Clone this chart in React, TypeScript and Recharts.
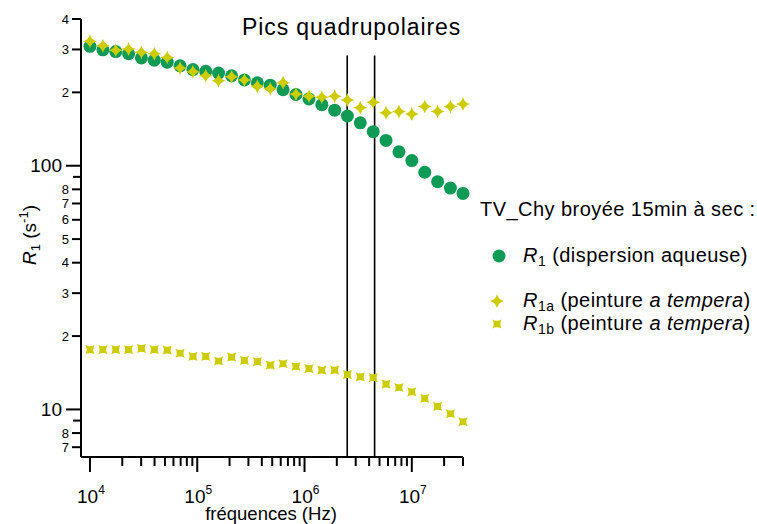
import { ScatterChart, Scatter, XAxis, YAxis, ReferenceLine } from 'recharts';

// fréquences (Hz), ~8 points par décade
const freqs = [
  1.0e4, 1.32e4, 1.74e4, 2.29e4, 3.02e4, 3.98e4, 5.25e4, 6.92e4, 9.12e4, 1.2e5,
  1.58e5, 2.09e5, 2.75e5, 3.63e5, 4.79e5, 6.31e5, 8.32e5, 1.1e6, 1.45e6, 1.91e6,
  2.51e6, 3.31e6, 4.37e6, 5.75e6, 7.59e6, 1.0e7, 1.32e7, 1.74e7, 2.29e7, 3.0e7,
];

// R1 (dispersion aqueuse)
const r1 = [
  309, 299, 294, 288, 277, 271, 266, 257, 248, 244,
  240, 234, 225, 219, 214, 205, 196, 188, 178, 169,
  160, 150, 138, 127, 114, 105, 94, 86, 81, 77,
];

// R1a (peinture a tempera)
const r1a = [
  324, 311, 298, 301, 292, 288, 278, 252, 243, 234,
  223, 232, 225, 212, 207, 219, 197, 193, 191, 193,
  186, 173, 182, 165, 167, 163, 175, 167, 175, 179,
];

// R1b (peinture a tempera)
const r1b = [
  17.6, 17.6, 17.6, 17.6, 17.8, 17.6, 17.5, 17.0, 16.5, 16.5,
  15.8, 16.4, 15.9, 15.7, 15.2, 15.4, 15.0, 14.7, 14.5, 14.5,
  13.9, 13.6, 13.5, 12.7, 12.3, 11.8, 11.1, 10.3, 9.6, 8.9,
];

// pics quadrupolaires
const pics = [2.5e6, 4.5e6];

const xTicks = [
  1e4, 2e4, 3e4, 4e4, 5e4, 6e4, 7e4, 8e4, 9e4,
  1e5, 2e5, 3e5, 4e5, 5e5, 6e5, 7e5, 8e5, 9e5,
  1e6, 2e6, 3e6, 4e6, 5e6, 6e6, 7e6, 8e6, 9e6,
  1e7, 2e7, 3e7,
];
const yTicks = [7, 8, 9, 10, 20, 30, 40, 50, 60, 70, 80, 90, 100, 200, 300, 400];
const xDomain = [8250, 3e7];
const yDomain = [6.38, 400];

const GREEN = '#0f9b55';
const YELLOW = '#cccc00';
const FONT = '"Liberation Sans", Arial, Helvetica, sans-serif';

const toPts = (ys: number[]) => freqs.map((f, i) => ({ x: f, y: ys[i] }));

const isDecade = (v: number) => Math.abs(Math.log10(v) - Math.round(Math.log10(v))) < 1e-9;

const Dot = (p: any) => <circle cx={p.cx} cy={p.cy} r={6.5} fill={GREEN} />;

const starPath = (cx: number, cy: number, r: number) => {
  const k = r * 0.2;
  return `M${cx},${cy - r} Q${cx + k},${cy - k} ${cx + r},${cy} Q${cx + k},${cy + k} ${cx},${cy + r} Q${cx - k},${cy + k} ${cx - r},${cy} Q${cx - k},${cy - k} ${cx},${cy - r} Z`;
};
const boxPath = (cx: number, cy: number, c: number) => {
  const k = c * 0.45;
  return `M${cx - c},${cy - c} Q${cx},${cy - k} ${cx + c},${cy - c} Q${cx + k},${cy} ${cx + c},${cy + c} Q${cx},${cy + k} ${cx - c},${cy + c} Q${cx - k},${cy} ${cx - c},${cy - c} Z`;
};

const Star = (p: any) => <path d={starPath(p.cx, p.cy, 7)} fill={YELLOW} />;
const Box = (p: any) => <path d={boxPath(p.cx, p.cy, 4.6)} fill={YELLOW} />;

const XTick = (props: any) => {
  const { x, y, payload } = props;
  const v = payload.value;
  if (isDecade(v)) {
    const e = Math.round(Math.log10(v));
    return (
      <g>
        <line x1={x} y1={y} x2={x} y2={y + 15} stroke="#000" strokeWidth={2} />
        <text x={x + 1} y={y + 46} textAnchor="middle" fontSize={19} fontFamily={FONT} fill="#000">
          10<tspan fontSize={12} dy={-9}>{e}</tspan>
        </text>
      </g>
    );
  }
  return <line x1={x} y1={y} x2={x} y2={y + 9} stroke="#000" strokeWidth={2} />;
};

const YTick = (props: any) => {
  const { x, y, payload } = props;
  const v = payload.value;
  const e = Math.floor(Math.log10(v) + 1e-9);
  const m = Math.round(v / Math.pow(10, e));
  if (isDecade(v)) {
    return (
      <g>
        <line x1={x} y1={y} x2={x - 15} y2={y} stroke="#000" strokeWidth={2} />
        <text x={x - 19} y={y + 6.5} textAnchor="end" fontSize={19} fontFamily={FONT} fill="#000">
          {v}
        </text>
      </g>
    );
  }
  if (m === 9) return <line x1={x} y1={y} x2={x - 8} y2={y} stroke="#000" strokeWidth={2} />;
  return (
    <g>
      <line x1={x} y1={y} x2={x - 9} y2={y} stroke="#000" strokeWidth={2} />
      <text x={x - 12} y={y + 4.5} textAnchor="end" fontSize={13} fontFamily={FONT} fill="#000">
        {m}
      </text>
    </g>
  );
};

export default function App() {
  return (
    <div style={{ position: 'absolute', left: 0, top: 0, width: 757, height: 524, background: '#fff' }}>
      <ScatterChart width={757} height={524} margin={{ top: 19, right: 294, bottom: 0, left: 0 }}>
        <XAxis
          type="number"
          dataKey="x"
          scale="log"
          domain={xDomain}
          ticks={xTicks}
          interval={0}
          tickSize={0}
          tickMargin={0}
          tick={<XTick />}
          height={67}
          axisLine={{ stroke: '#000', strokeWidth: 2 }}
        />
        <YAxis
          type="number"
          dataKey="y"
          scale="log"
          domain={yDomain}
          ticks={yTicks}
          interval={0}
          tickSize={0}
          tickMargin={0}
          tick={<YTick />}
          width={81}
          axisLine={{ stroke: '#000', strokeWidth: 2 }}
        />
        <Scatter data={toPts(r1)} shape={Dot} isAnimationActive={false} />
        <Scatter data={toPts(r1a)} shape={Star} isAnimationActive={false} />
        <Scatter data={toPts(r1b)} shape={Box} isAnimationActive={false} />
        {pics.map((f) => (
          <ReferenceLine
            key={f}
            segment={[{ x: f, y: 283 }, { x: f, y: yDomain[0] }]}
            stroke="#000"
            strokeWidth={1.6}
          />
        ))}
      </ScatterChart>
      <svg width={757} height={524} style={{ position: 'absolute', left: 0, top: 0, pointerEvents: 'none' }}>
        <g fontFamily={FONT} fill="#000">
          <text x={242} y={35} fontSize={23} letterSpacing={0.9}>Pics quadrupolaires</text>
          <text x={271} y={519.5} fontSize={18.5} textAnchor="middle">fréquences (Hz)</text>
          <text x={36} y={235} fontSize={19} textAnchor="middle" transform="rotate(-90, 36, 235)">
            <tspan fontStyle="italic">R</tspan>
            <tspan fontSize={13} dy={4}>1</tspan>
            <tspan dy={-4}> (s</tspan>
            <tspan fontSize={13} dy={-8}>-1</tspan>
            <tspan dy={8}>)</tspan>
          </text>
          <g fontSize={20} letterSpacing={0.45}>
            <text x={480} y={216}>TV_Chy broyée 15min à sec :</text>

            <circle cx={499} cy={256} r={6.5} fill={GREEN} />
            <text x={523} y={262}>
              <tspan fontStyle="italic">R</tspan>
              <tspan fontSize={14} dy={4}>1</tspan>
              <tspan dy={-4}> (dispersion aqueuse)</tspan>
            </text>

            <path d={starPath(497, 301, 7)} fill={YELLOW} />
            <text x={523} y={307}>
              <tspan fontStyle="italic">R</tspan>
              <tspan fontSize={14} dy={4}>1a</tspan>
              <tspan dy={-4}> (peinture </tspan>
              <tspan fontStyle="italic">a tempera</tspan>
              <tspan>)</tspan>
            </text>

            <path d={boxPath(497, 324, 4.6)} fill={YELLOW} />
            <text x={523} y={330}>
              <tspan fontStyle="italic">R</tspan>
              <tspan fontSize={14} dy={4}>1b</tspan>
              <tspan dy={-4}> (peinture </tspan>
              <tspan fontStyle="italic">a tempera</tspan>
              <tspan>)</tspan>
            </text>
          </g>
        </g>
      </svg>
    </div>
  );
}
